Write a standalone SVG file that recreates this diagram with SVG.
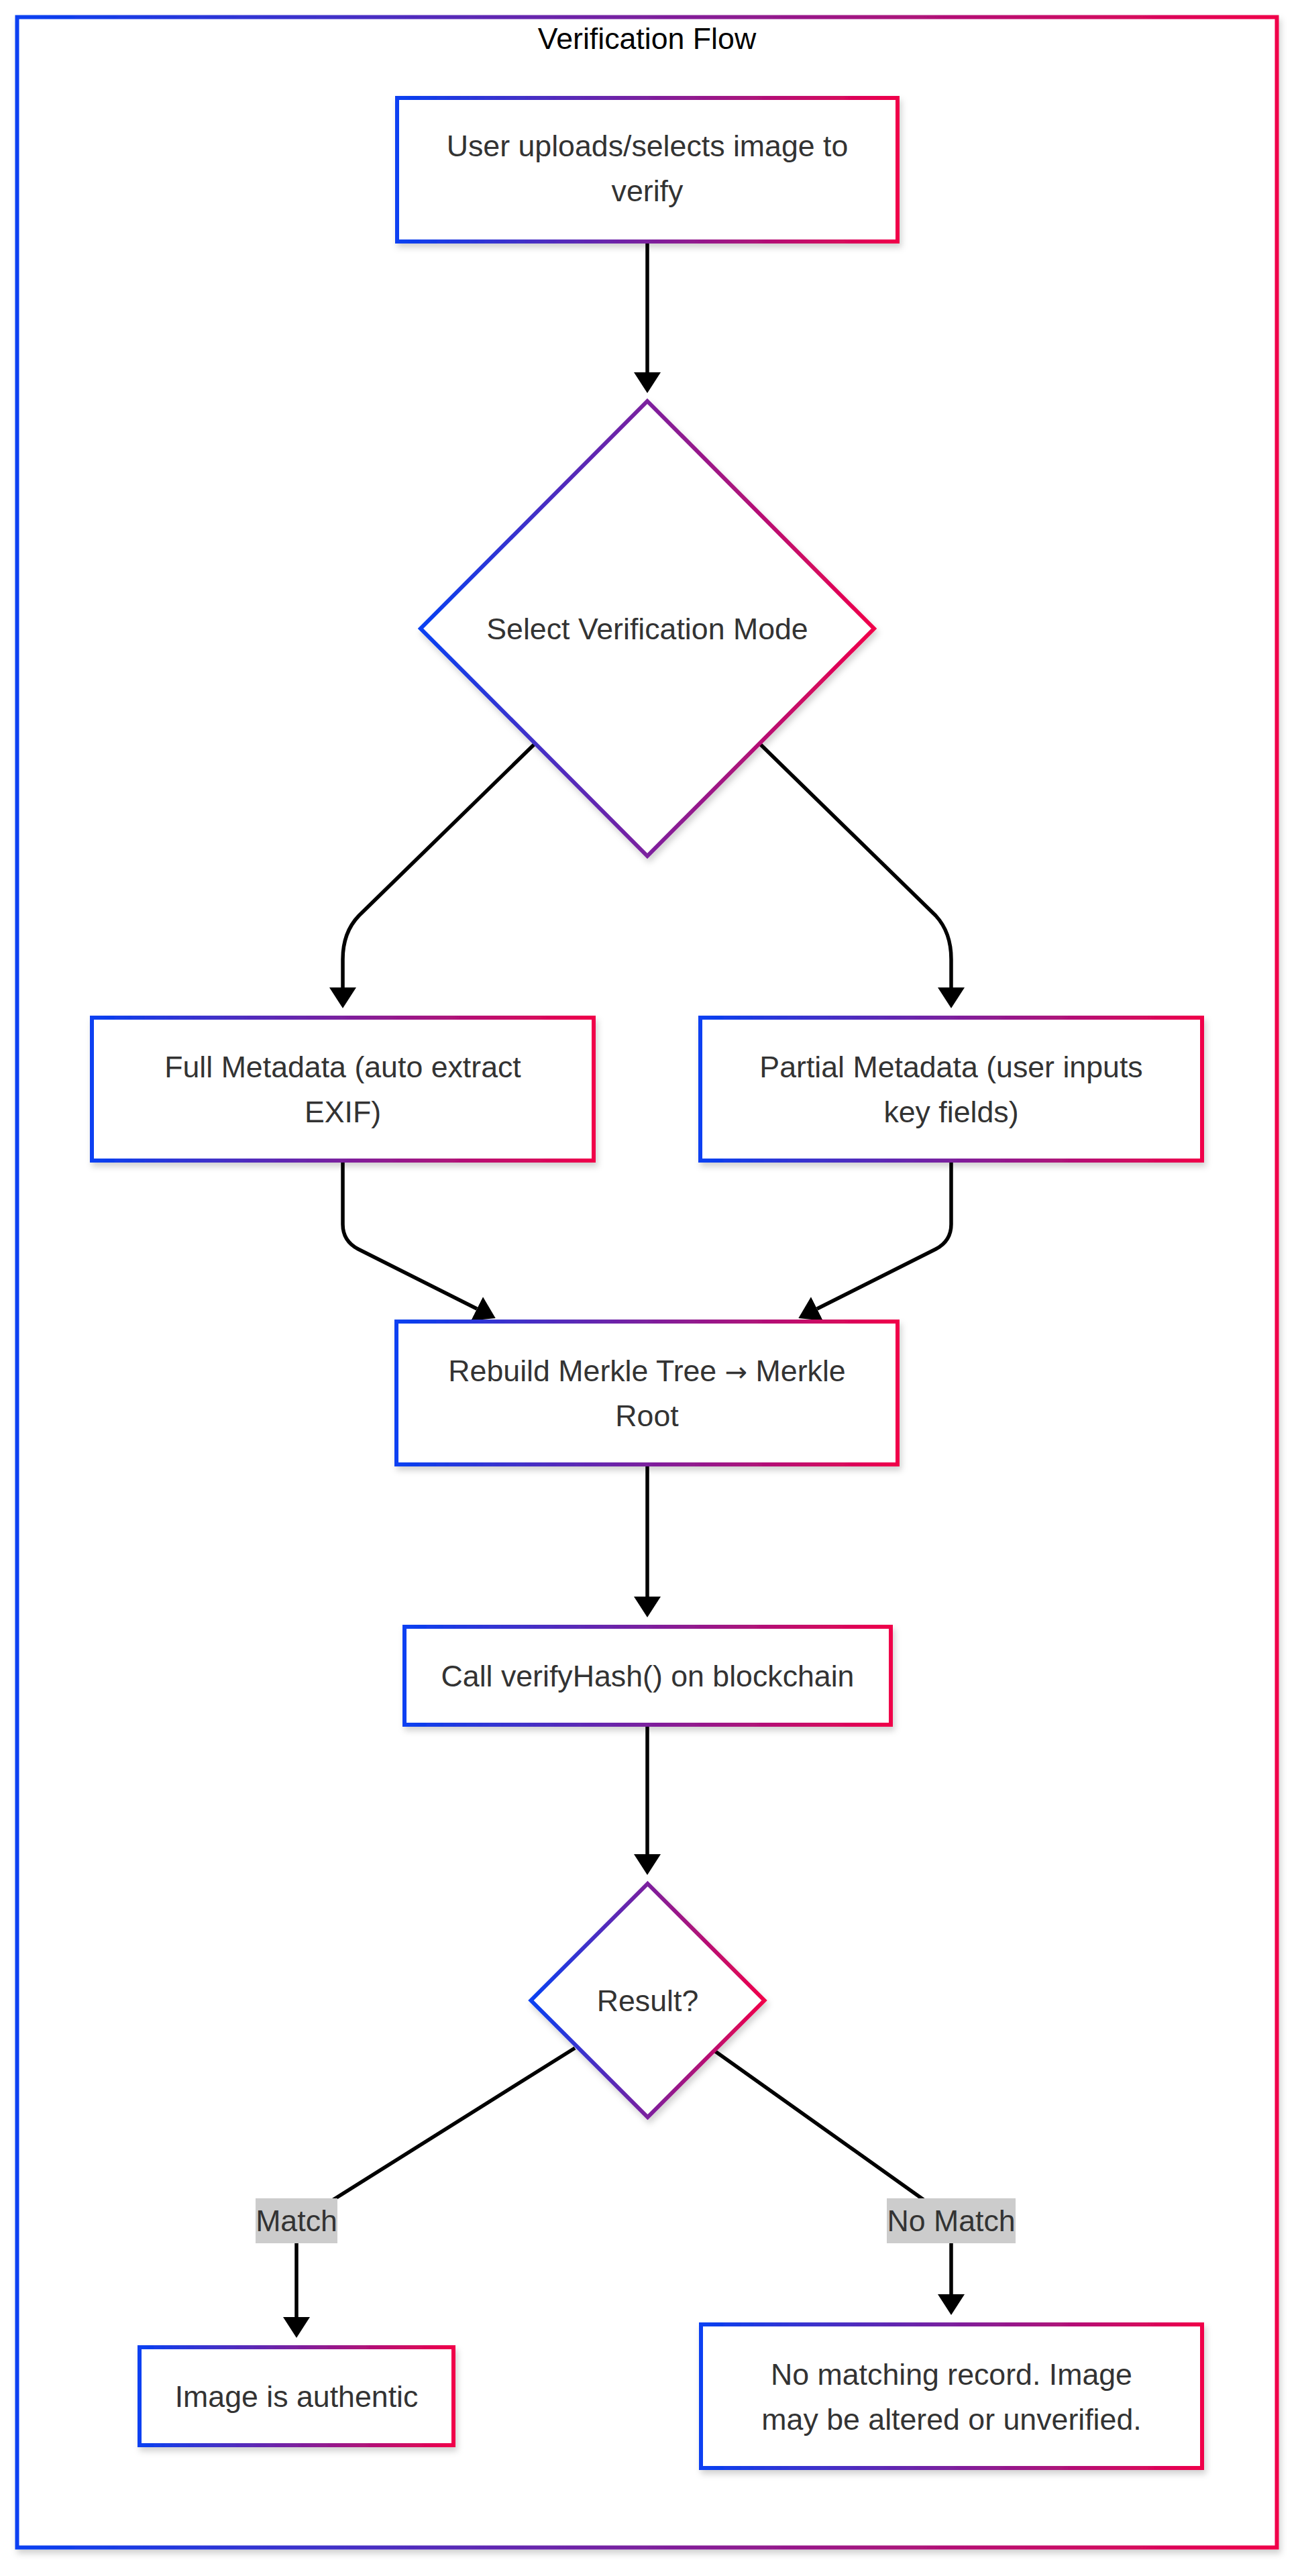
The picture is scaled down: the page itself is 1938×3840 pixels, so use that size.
<svg xmlns="http://www.w3.org/2000/svg" width="1938" height="3840" viewBox="0 0 1938 3840">
  <defs>
    <linearGradient id="grad" x1="0" y1="0" x2="1" y2="0">
      <stop offset="0" stop-color="#0740f2"/>
      <stop offset="1" stop-color="#f0004a"/>
    </linearGradient>
    <filter id="shadow" x="-10%" y="-10%" width="120%" height="130%">
      <feDropShadow dx="3" dy="6" stdDeviation="5" flood-color="#000" flood-opacity="0.18"/>
    </filter>
    <marker id="arrow" markerUnits="userSpaceOnUse" viewBox="0 0 31 40" refX="0" refY="20" markerWidth="31" markerHeight="40" orient="auto">
      <path d="M0,0 L31,20 L0,40 Z" fill="#000"/>
    </marker>
  </defs>
  <style>
    .node { fill: #ffffff; stroke: url(#grad); stroke-width: 6; filter: url(#shadow); }
    .txt { font-family: "Liberation Sans", Arial, sans-serif; font-size: 44.7px; fill: #333333; text-anchor: middle; }
    .title { font-family: "Liberation Sans", Arial, sans-serif; font-size: 44.7px; fill: #000000; text-anchor: middle; }
    .edge { fill: none; stroke: #000; stroke-width: 5.5; marker-end: url(#arrow); }
    .lblbg { fill: #cccccc; }
  </style>

  <g id="frame">
    <rect x="25.5" y="25.5" width="1878" height="3772" class="node"/>
    <text x="964.5" y="73" class="title">Verification Flow</text>
  </g>

  <g id="connectors">
    <path class="edge" d="M965,362 L965,555"/>
    <path class="edge" d="M796,1110 L535,1365 Q511,1390 511,1430 L511,1472"/>
    <path class="edge" d="M1134,1110 L1395,1365 Q1418,1390 1418,1430 L1418,1472"/>
    <path class="edge" d="M511,1731 L511,1825 Q511,1850 534,1862 L711,1951"/>
    <path class="edge" d="M1418,1731 L1418,1825 Q1418,1850 1395,1862 L1218,1951"/>
    <path class="edge" d="M965,2183 L965,2380"/>
    <path class="edge" d="M965,2571 L965,2764"/>
    <path class="edge" d="M857,3053 L500,3277 Q442,3313 442,3345 L442,3454"/>
    <path class="edge" d="M1065,3057 L1374,3277 Q1418,3308 1418,3344 L1418,3420"/>
  </g>

  <g id="node-upload">
    <rect x="592" y="146" width="746" height="214" class="node"/>
    <text x="965" y="233" class="txt">User uploads/selects image to</text>
    <text x="965" y="300" class="txt">verify</text>
  </g>

  <g id="node-mode">
    <polygon points="965,598 1303,937 965,1276 627,937" class="node"/>
    <text x="965" y="953" class="txt">Select Verification Mode</text>
  </g>

  <g id="node-full">
    <rect x="137" y="1517" width="748" height="213" class="node"/>
    <text x="511" y="1606" class="txt">Full Metadata (auto extract</text>
    <text x="511" y="1673" class="txt">EXIF)</text>
  </g>

  <g id="node-partial">
    <rect x="1044" y="1517" width="748" height="213" class="node"/>
    <text x="1418" y="1606" class="txt">Partial Metadata (user inputs</text>
    <text x="1418" y="1673" class="txt">key fields)</text>
  </g>

  <g id="node-rebuild">
    <rect x="591" y="1970" width="747" height="213" class="node"/>
    <text x="964.5" y="2059" class="txt">Rebuild Merkle Tree <tspan font-family="'DejaVu Sans', sans-serif" font-size="40px">→</tspan> Merkle</text>
    <text x="964.5" y="2126" class="txt">Root</text>
  </g>

  <g id="node-call">
    <rect x="603" y="2425" width="725" height="146" class="node"/>
    <text x="965.5" y="2514" class="txt">Call verifyHash() on blockchain</text>
  </g>

  <g id="node-result">
    <polygon points="965.5,2808 1139.5,2982 965.5,3156 791.5,2982" class="node"/>
    <text x="965.5" y="2998" class="txt">Result?</text>
  </g>

  <g id="label-match">
    <rect x="381" y="3277" width="122" height="67" class="lblbg"/>
    <text x="442" y="3326" class="txt">Match</text>
  </g>

  <g id="label-nomatch">
    <rect x="1322" y="3277" width="192" height="67" class="lblbg"/>
    <text x="1418" y="3326" class="txt">No Match</text>
  </g>

  <g id="node-authentic">
    <rect x="208" y="3499" width="468" height="146" class="node"/>
    <text x="442" y="3588" class="txt">Image is authentic</text>
  </g>

  <g id="node-nomatch">
    <rect x="1045" y="3465" width="747" height="214" class="node"/>
    <text x="1418.5" y="3555" class="txt">No matching record. Image</text>
    <text x="1418.5" y="3622" class="txt">may be altered or unverified.</text>
  </g>
</svg>
